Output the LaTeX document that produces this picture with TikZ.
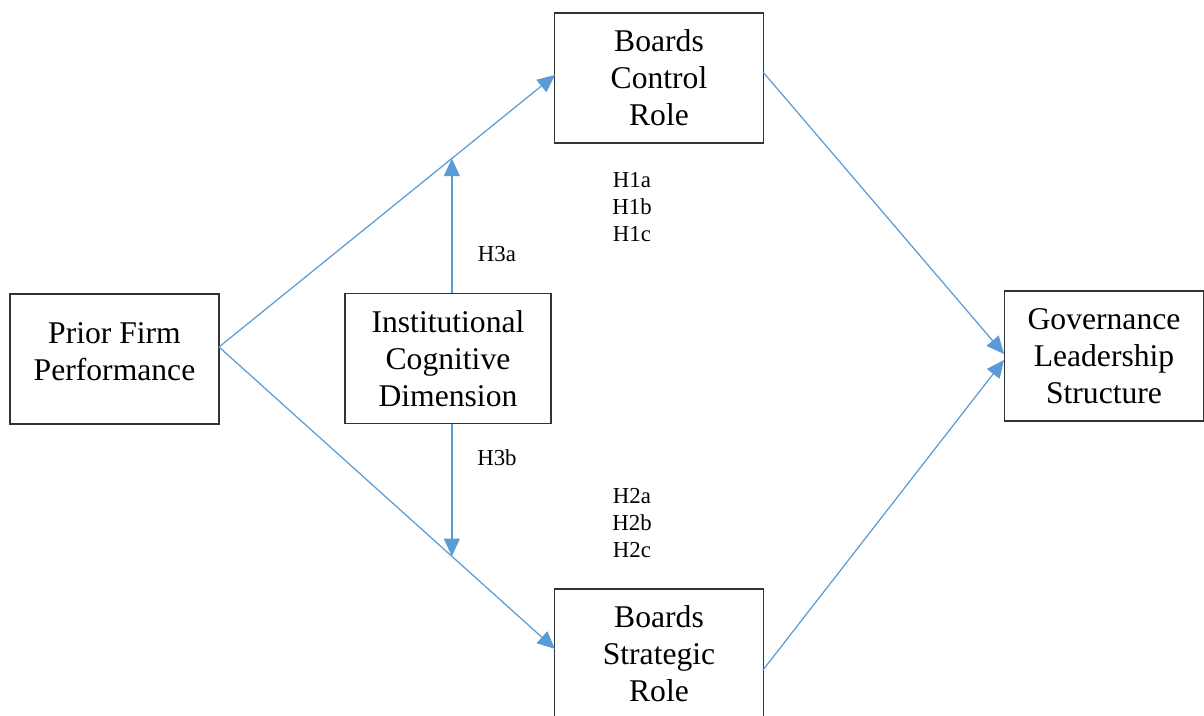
\documentclass[tikz,border=0pt]{standalone}
\usepackage{fontspec}
\setmainfont{Liberation Serif}
\usepackage{tikz}
\usetikzlibrary{arrows.meta,calc}
\definecolor{linkblue}{RGB}{91,155,213}

\begin{document}
\begin{tikzpicture}[x=0.02cm,y=-0.02cm,
    box/.style={draw=black!80, line width=0.8pt, minimum width=4.18cm, minimum height=2.6cm,
        inner sep=0pt, align=center, font=\fontsize{18}{21}\selectfont},
    link/.style={draw=linkblue, line width=0.7pt, -{Triangle[length=10pt,width=9pt]}},
    hyp/.style={font=\fontsize{13}{15.3}\selectfont, align=center}]
    % Fixed Bounding Box (pixel frame)
    \useasboundingbox (0,0) rectangle (1204,716);

    % Boxes
    \node[box] (prior) at (114.5,359) {Prior Firm\\Performance\\[-12pt]\mbox{}};
    \node[box, minimum width=4.12cm] (inst) at (448,358.5) {Institutional\\Cognitive\\Dimension};
    \node[box] (control) at (659,78) {Boards\\Control\\Role};
    \node[box] (strategic) at (659,654) {Boards\\Strategic\\Role};
    \node[box, minimum width=3.98cm] (gov) at (1104,356) {Governance\\Leadership\\Structure};

    % Connector ends
    \coordinate (pfout) at (219,347);
    \coordinate (ctlin) at (555,75);
    \coordinate (strin) at (555,649);
    \coordinate (ctlout) at (763,72);
    \coordinate (strout) at (763,670);
    \coordinate (govtop) at (1004,354);
    \coordinate (govbot) at (1004,360);

    % Paths
    \draw[link] (pfout) -- coordinate[pos=0.693] (modup) (ctlin);
    \draw[link] (pfout) -- coordinate[pos=0.693] (moddown) (strin);
    \draw[link, line width=0.9pt] (inst.north -| modup) -- (modup);
    \draw[link, line width=0.9pt] (inst.south -| moddown) -- (moddown);
    \draw[link] (ctlout) -- (govtop);
    \draw[link] (strout) -- (govbot);

    % Hypothesis labels
    \node[hyp] (h1) at (632,207) {H1a\\H1b\\H1c};
    \node[hyp] (h2) at (632,523) {H2a\\H2b\\H2c};
    \node[hyp] (h3a) at (497,254) {H3a};
    \node[hyp] (h3b) at (497,458) {H3b};
\end{tikzpicture}
\end{document}
